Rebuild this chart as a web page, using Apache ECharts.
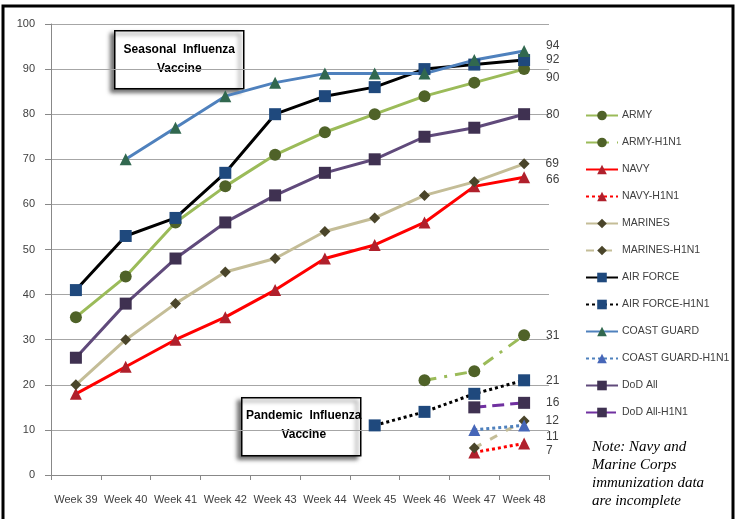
<!DOCTYPE html>
<html>
<head>
<meta charset="utf-8">
<script src="https://cdn.jsdelivr.net/npm/echarts@6/dist/echarts.min.js"></script>
<style>
  html, body { margin: 0; padding: 0; background: #fff; }
  #chart { width: 736px; height: 519px; }
</style>
</head>
<body>
<div id="chart"></div>
<script>
// x 轴周次
var weeks = ["Week 39", "Week 40", "Week 41", "Week 42", "Week 43", "Week 44", "Week 45", "Week 46", "Week 47", "Week 48"];
// 季节性流感疫苗 (%)
var army       = [35, 44, 56, 64, 71, 76, 80, 84, 87, 90];
var navy       = [18, 24, 30, 35, 41, 48, 51, 56, 64, 66];
var marines    = [20, 30, 38, 45, 48, 54, 57, 62, 65, 69];
var airForce   = [41, 53, 57, 67, 80, 84, 86, 90, 91, 92];
var coastGuard = [null, 70, 77, 84, 87, 89, 89, 89, 92, 94];
var dodAll     = [26, 38, 48, 56, 62, 67, 70, 75, 77, 80];
// H1N1 大流行疫苗 (%)
var armyH1       = [null, null, null, null, null, null, null, 21, 23, 31];
var navyH1       = [null, null, null, null, null, null, null, null, 5, 7];
var marinesH1    = [null, null, null, null, null, null, null, null, 6, 12];
var airForceH1   = [null, null, null, null, null, null, 11, 14, 18, 21];
var coastGuardH1 = [null, null, null, null, null, null, null, null, 10, 11];
var dodAllH1     = [null, null, null, null, null, null, null, null, 15, 16];
var yTicks = [0, 10, 20, 30, 40, 50, 60, 70, 80, 90, 100];

var chart = echarts.init(document.getElementById("chart"));

// 只给最后一个点加数值标签
function withEndLabel(arr, offset) {
  return arr.map(function (v, i) {
    if (i !== arr.length - 1 || v == null) return v;
    return {
      value: v,
      label: {
        show: true,
        position: "right",
        distance: 16,
        offset: offset || [0, 0],
        color: "#404040",
        fontSize: 12,
        fontFamily: "Liberation Sans"
      }
    };
  });
}

function makeSeries(name, arr, lineColor, lineType, symbol, symColor, size, offset) {
  return {
    name: name,
    type: "line",
    data: withEndLabel(arr, offset),
    symbol: symbol,
    symbolSize: size || 12,
    showSymbol: true,
    lineStyle: { color: lineColor, width: 3, type: lineType },
    itemStyle: { color: symColor, borderColor: symColor, borderWidth: 0 },
    emphasis: { disabled: true },
    animation: false,
    z: 3
  };
}

var series = [
  makeSeries("ARMY", army, "#9BBB59", "solid", "circle", "#4F6228", 12, [0, 9]),
  makeSeries("ARMY-H1N1", armyH1, "#9BBB59", [12, 8, 3, 8], "circle", "#4F6228", 12),
  makeSeries("NAVY", navy, "#FF0000", "solid", "triangle", "#B0202C", 12, [0, 2]),
  makeSeries("NAVY-H1N1", navyH1, "#FF0000", [3, 3], "triangle", "#B0202C", 12, [0, 7]),
  makeSeries("MARINES", marines, "#C4BD97", "solid", "diamond", "#4A452A", 11),
  makeSeries("MARINES-H1N1", marinesH1, "#C4BD97", [8, 10], "diamond", "#4A452A", 11),
  makeSeries("AIR FORCE", airForce, "#000000", "solid", "rect", "#1F497D", 12),
  makeSeries("AIR FORCE-H1N1", airForceH1, "#000000", [3, 3], "rect", "#1F497D", 12),
  makeSeries("COAST GUARD", coastGuard, "#4F81BD", "solid", "triangle", "#31684F", 12, [0, -5]),
  makeSeries("COAST GUARD-H1N1", coastGuardH1, "#4F81BD", [3, 3], "triangle", "#4666B8", 12, [0, 11]),
  makeSeries("DoD All", dodAll, "#604A7B", "solid", "rect", "#3F3151", 12),
  makeSeries("DoD All-H1N1", dodAllH1, "#7030A0", [12, 6], "rect", "#3F3151", 12)
];

chart.setOption({
  backgroundColor: "#fff",
  textStyle: { fontFamily: "Liberation Sans" },
  grid: { left: 51, right: 187, top: 24, bottom: 44, containLabel: false },
  legend: {
    orient: "vertical",
    left: 585,
    top: 110,
    padding: 0,
    itemWidth: 32,
    itemHeight: 12,
    itemGap: 16,
    textStyle: { color: "#404040", fontSize: 10.5, fontFamily: "Liberation Sans", padding: [0, 0, 0, -1] },
    data: series.map(function (s) { return s.name; })
  },
  xAxis: {
    type: "category",
    data: weeks,
    boundaryGap: true,
    axisLine: { lineStyle: { color: "#888", width: 1 } },
    axisTick: { show: true, alignWithLabel: false, length: 5, lineStyle: { color: "#888" } },
    axisLabel: { color: "#404040", fontSize: 11, margin: 19, interval: 0 },
    splitLine: { show: false }
  },
  yAxis: {
    type: "value",
    min: yTicks[0],
    max: yTicks[yTicks.length - 1],
    interval: 10,
    axisLine: { show: true, lineStyle: { color: "#888", width: 1 } },
    axisTick: { show: true, length: 6, lineStyle: { color: "#888" } },
    axisLabel: { color: "#404040", fontSize: 11, margin: 16 },
    splitLine: { show: true, lineStyle: { color: "#A6A6A6", width: 1 } }
  },
  series: series,
  graphic: [
    {
      type: "rect",
      shape: { x: 3, y: 6, width: 730, height: 530 },
      style: { fill: "none", stroke: "#000", lineWidth: 3 },
      z: 100
    },
    {
      type: "group",
      left: 114,
      top: 30,
      z: 50,
      children: [
        {
          type: "rect",
          shape: { x: 0, y: 0, width: 129, height: 58 },
          style: {
            fill: "#fff", stroke: "#000", lineWidth: 1.5,
            shadowBlur: 4, shadowOffsetX: -4, shadowOffsetY: 3, shadowColor: "rgba(0,0,0,0.55)"
          }
        },
        {
          type: "text",
          x: 64.5, y: 9,
          style: {
            text: "Seasonal  Influenza\nVaccine",
            align: "center",
            fill: "#000",
            font: "bold 12px 'Liberation Sans'",
            lineHeight: 19
          }
        }
      ]
    },
    {
      type: "group",
      left: 241,
      top: 397,
      z: 50,
      children: [
        {
          type: "rect",
          shape: { x: 0, y: 0, width: 119, height: 58 },
          style: {
            fill: "#fff", stroke: "#000", lineWidth: 1.5,
            shadowBlur: 4, shadowOffsetX: -4, shadowOffsetY: 3, shadowColor: "rgba(0,0,0,0.55)"
          }
        },
        {
          type: "text",
          x: 62, y: 8,
          style: {
            text: "Pandemic  Influenza\nVaccine",
            align: "center",
            fill: "#000",
            font: "bold 12px 'Liberation Sans'",
            lineHeight: 19
          }
        }
      ]
    },
    {
      type: "text",
      left: 592,
      top: 438,
      z: 50,
      style: {
        text: "Note: Navy and\nMarine Corps\nimmunization data\nare incomplete",
        fill: "#000",
        font: "italic 15px 'Liberation Serif'",
        lineHeight: 18
      }
    }
  ]
});
</script>
</body>
</html>
